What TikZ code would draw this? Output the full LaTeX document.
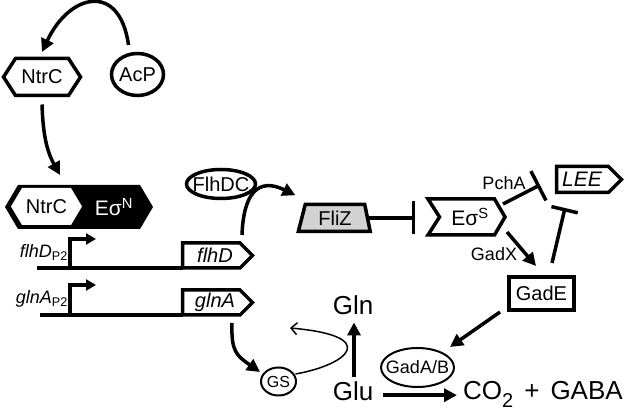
\documentclass[tikz,border=0pt]{standalone}
\usepackage{fontspec}
\setmainfont{Liberation Sans}
\usetikzlibrary{%
  arrows.meta,%
  calc,%
  shapes.geometric%
}

\begin{document}
\begin{tikzpicture}[x=1pt,y=1pt,
    lbl/.style={font=\fontsize{20}{24}\selectfont,inner sep=0pt},
    sml/.style={font=\fontsize{18}{20}\selectfont,inner sep=0pt},
    big/.style={font=\fontsize{26}{30}\selectfont,inner sep=0pt},
    genetxt/.style={font=\fontsize{20}{24}\selectfont\itshape,inner sep=0pt},
    outline/.style={draw,line width=3.5pt},
    arr/.style={line width=3.5pt,-{Triangle[length=13pt,width=13pt]}},
    inh/.style={line width=3.5pt,-{Bar[width=33pt]}},
    prom/.style={line width=3.5pt,-{Triangle[length=10pt,width=11pt]}}]
  \useasboundingbox (0,0) rectangle (626,411);
  % NtrC and AcP
  \node[lbl] (ntrc) at (42,334) {NtrC};
  \draw[outline] ($(ntrc)+(-38.5,0)$) -- ++(12,18.5) -- ++(53,0) -- ++(12,-18.5)
    -- ++(-12,-18.5) -- ++(-53,0) -- cycle;
  \node[lbl] (acp) at (137.5,336.5) {AcP};
  \draw[outline] (acp) ellipse (26 and 21);
  \draw[arr] ($(acp)+(-9,29.5)$) to[out=98,in=65,looseness=1.9]
    ($(ntrc)+(0,25)$);
  % NtrC - Eo^N complex
  \coordinate (cplx) at (79,204);
  \fill[black] ($(cplx)+(-74,0)$) -- ++(13,22) -- ++(122,0) -- ++(13,-22)
    -- ++(-13,-22) -- ++(-122,0) -- cycle;
  \fill[white] ($(cplx)+(-68,0.5)$) -- ++(11,18.5) -- ++(49,0) -- ++(11,-18.5)
    -- ++(-11,-18.5) -- ++(-49,0) -- cycle;
  \node[lbl] (ntrcb) at ($(cplx)+(-32.5,0.5)$) {NtrC};
  \node[lbl,font=\fontsize{21}{24}\selectfont,text=white] (eon)
    at ($(cplx)+(35,0)$) {Eσ\textsuperscript{N}};
  \draw[arr] ($(ntrc)+(0,-27.5)$) to[out=-88,in=119]
    ($(ntrcb)+(13.5,31.5)$);
  % genes
  \node[genetxt] (flhd) at (215,155.5) {flhD};
  \draw[outline] ($(flhd)+(-32.5,-12.5)$) -- ++(57.5,0) -- ++(12.5,12.5)
    -- ++(-12.5,12.5) -- ++(-57.5,0) -- cycle;
  \node[genetxt] (glna) at (215,108.5) {glnA};
  \draw[outline] ($(glna)+(-32.5,-12.5)$) -- ++(57.5,0) -- ++(12.5,12.5)
    -- ++(-12.5,12.5) -- ++(-57.5,0) -- cycle;
  \coordinate (flhdstart) at (37,143);
  \coordinate (glnastart) at (40,96);
  \draw[line width=3.5pt] (flhdstart) -- ($(flhd)+(-32.5,-12.5)$);
  \draw[line width=3.5pt] (glnastart) -- ($(glna)+(-32.5,-12.5)$);
  \draw[prom] (flhdstart) ++(33,0) |- ++(26,29);
  \draw[prom] (glnastart) ++(30,0) |- ++(26,30);
  \node[sml,anchor=base east] (flhdp) at (68,153) {\textit{flhD}\textsubscript{P2}};
  \node[sml,anchor=base east] (glnap) at (68,107) {\textit{glnA}\textsubscript{P2}};
  % FlhDC, FliZ
  \node[lbl] (flhdc) at (221,227) {FlhDC};
  \draw[outline] (flhdc) ellipse (34.5 and 14.5);
  \node[trapezium,trapezium stretches=true,trapezium left angle=75,
    trapezium right angle=78,outline,fill=gray!35,lbl,
    minimum width=72,minimum height=27] (fliz) at (335,193) {FliZ};
  \draw[arr] ($(flhd)+(27,20.5)$) to[out=88,in=154,looseness=1.6]
    ($(fliz.top left corner)+(-8.5,7.5)$);
  % Eo^S, LEE, GadE
  \node[lbl,font=\fontsize{21}{24}\selectfont] (eos) at (470,194)
    {Eσ\textsuperscript{S}};
  \draw[outline] ($(eos)+(-42,18)$) -- ++(66.5,0) -- ++(10.5,-18) -- ++(-10.5,-18)
    -- ++(-66.5,0) -- ++(11.5,18) -- cycle;
  \node[genetxt,font=\fontsize{21}{24}\selectfont\itshape] (lee) at (582,231.5) {LEE};
  \draw[outline] ($(lee)+(-25.5,-13)$) -- ++(52,0) -- ++(13,13) -- ++(-13,13)
    -- ++(-52,0) -- cycle;
  \node[outline,line width=4pt,lbl,minimum width=65,minimum height=33]
    (gade) at (541.5,117.5) {GadE};
  \draw[inh,shorten >=55pt] (fliz.east) -- (fliz.east -| eos);
  \node[sml] (pcha) at (504,228) {PchA};
  \node[sml] (gadx) at (494,157) {GadX};
  \draw[inh] ($(eos)+(33,13)$) -- ($(lee)+(-42,-5.5)$);
  \draw[line width=3.5pt,-{Bar[width=27pt]}] ($(gade.north)+(10.5,12)$)
    -- ($(lee)+(-17,-28.5)$);
  \draw[arr] ($(eos)+(37,-15)$) -- ($(gade.north west)+(29,9)$);
  % glutamate
  \node[sml] (gada) at (417.5,43.5) {GadA/B};
  \draw[line width=2pt] (gada) ellipse (36.5 and 19.5);
  \node[font=\fontsize{16}{18}\selectfont,inner sep=0pt] (gs) at (278.5,29.5) {GS};
  \draw[line width=2pt] (gs) ellipse (17.5 and 14);
  \node[big,anchor=base] (gln) at (353,96) {Gln};
  \node[big,anchor=base] (glu) at (353,10) {Glu};
  \node[big,anchor=base west] (co2) at (463,11)
    {CO\raisebox{-8pt}{\fontsize{20}{20}\selectfont 2}\hspace{11pt}+\hspace{11pt}GABA};
  \draw[arr] ($(gade.south west)+(-7,0)$) -- ($(gada)+(32.5,20.5)$);
  \draw[arr,line width=4pt] ($(glu.north)+(1,5)$) -- ($(gln.south)+(1,-7)$);
  \draw[arr,shorten <=10pt,shorten >=6pt] ([yshift=-3.5pt]glu.east)
    -- ([yshift=-3.5pt]glu.east -| co2.west);
  \draw[arr] ($(glna)+(17,-20.5)$) to[out=-92,in=145,looseness=1.3]
    ($(gs)+(-18.5,9.5)$);
  \draw[line width=1.5pt,-{Straight Barb[length=6pt,width=12pt]}]
    ($(gs)+(17,7.5)$) .. controls +(10:53) and +(-5:92) .. ($(gs)+(11.5,53.5)$);
\end{tikzpicture}
\end{document}
